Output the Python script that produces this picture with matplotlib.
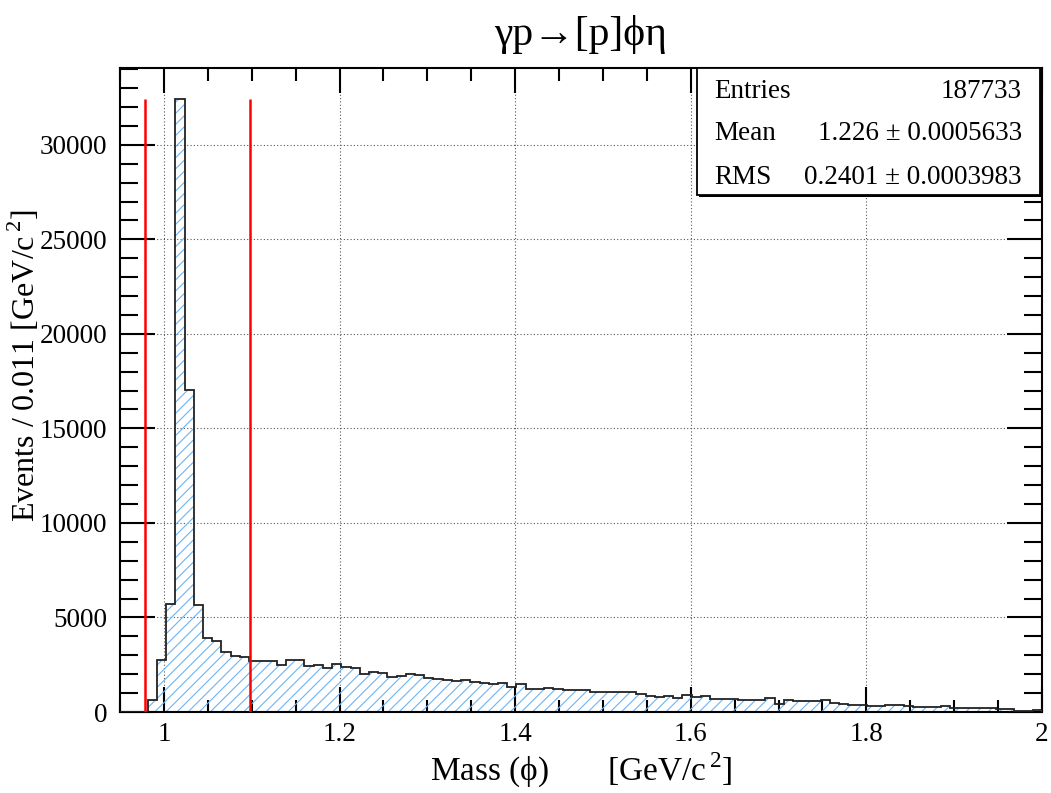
import numpy as np
import matplotlib
matplotlib.use("Agg")
import matplotlib.pyplot as plt
from matplotlib.patches import Rectangle
from matplotlib.ticker import MultipleLocator

# ---- data ----
x_min, x_max, n_bins = 0.95, 2.0, 100
counts = [
    0, 0, 0, 650, 2765, 5700, 32440, 17020, 5640, 3910,
    3780, 3150, 2940, 2930, 2720, 2720, 2720, 2470, 2740, 2770,
    2430, 2505, 2350, 2520, 2360, 2310, 1990, 2130, 2065, 1870,
    1920, 1990, 1940, 1815, 1730, 1675, 1640, 1690, 1570, 1535,
    1480, 1515, 1320, 1465, 1200, 1200, 1270, 1200, 1150, 1150,
    1150, 1060, 1060, 1060, 1060, 1050, 970, 845, 795, 830,
    725, 880, 795, 830, 705, 705, 670, 655, 655, 615,
    760, 440, 655, 580, 565, 565, 655, 495, 405, 370,
    370, 315, 315, 355, 355, 300, 245, 265, 280, 335,
    230, 210, 195, 230, 230, 160, 175, 55, 55, 105,
]
cut_lines = [0.978, 1.098]
x_ticks = [1.0, 1.2, 1.4, 1.6, 1.8, 2.0]
x_tick_labels = ["1", "1.2", "1.4", "1.6", "1.8", "2"]
y_ticks = [0, 5000, 10000, 15000, 20000, 25000, 30000]
stats_names = ["Entries", "Mean", "RMS"]
stats_values = ["187733", "1.226 \u00b1 0.0005633", "0.2401 \u00b1 0.0003983"]
title = "\u03b3p\u2192[p]\u03d5\u03b7"

# ---- style ----
serif = ["Liberation Serif", "DejaVu Serif"]
plt.rcParams["font.family"] = serif
plt.rcParams["mathtext.fontset"] = "custom"
plt.rcParams["mathtext.rm"] = "Liberation Serif"
plt.rcParams["hatch.linewidth"] = 0.8

W, H = 1051, 793
fig = plt.figure(figsize=(W / 100, H / 100), dpi=100)
L, R, T, B = 120, 1042, 68, 712
ax = fig.add_axes([L / W, 1 - B / H, (R - L) / W, (B - T) / H])

edges = np.linspace(x_min, x_max, n_bins + 1)
counts = np.array(counts, dtype=float)
hatch_col = "#6db4f5"
ax.stairs(counts, edges, fill=True, facecolor="none", edgecolor=hatch_col,
          hatch="///", linewidth=0, zorder=2)
ax.stairs(counts, edges, fill=False, color="#222222", linewidth=1.3, zorder=3)

ymax = counts.max() * 1.05
for xc in cut_lines:
    ax.vlines(xc, 0, counts.max(), color="#ff0000", linewidth=1.8, zorder=4)

ax.set_xlim(x_min, x_max)
ax.set_ylim(0, ymax)
ax.set_xticks(x_ticks)
ax.set_xticklabels(x_tick_labels)
ax.set_yticks(y_ticks)
ax.set_yticklabels([str(v) for v in y_ticks])
ax.xaxis.set_minor_locator(MultipleLocator(0.05))
ax.yaxis.set_minor_locator(MultipleLocator(1000))
ax.tick_params(which="both", direction="in", top=True, right=True,
               width=1.5, colors="black", labelsize=19.5)
ax.tick_params(axis="x", which="major", length=18, pad=7)
ax.tick_params(axis="x", which="minor", length=9)
ax.tick_params(axis="y", which="major", length=25, pad=9)
ax.tick_params(axis="y", which="minor", length=13)
ax.grid(True, which="major", linestyle=(0, (1, 2)), color="#555555", linewidth=0.8)
ax.set_axisbelow(True)
for s in ax.spines.values():
    s.set_linewidth(1.5)

fig.text((L + R) / 2 / W, 1 - 35 / H, title, ha="center", va="center", fontsize=30, family=serif)
fig.text((L + R) / 2 / W, 1 - 770 / H, "Mass (\u03d5)       [GeV/c$^{\\,2}$]",
         ha="center", va="center", fontsize=24, family=serif)
fig.text(24 / W, 1 - 366 / H, "Events / 0.011 [GeV/c$^{\\,2}$]",
         ha="center", va="center", rotation=90, fontsize=23, family=serif)

# stats box
bx0, bx1, by0, by1 = 697, 1040, 68, 195
fig.patches.append(Rectangle((bx0 / W + 2 / W, 1 - by1 / H - 2 / H), (bx1 - bx0) / W, (by1 - by0) / H,
                             transform=fig.transFigure, facecolor="black", edgecolor="black",
                             linewidth=0, zorder=9))
fig.patches.append(Rectangle((bx0 / W, 1 - by1 / H), (bx1 - bx0) / W, (by1 - by0) / H,
                             transform=fig.transFigure, facecolor="white", edgecolor="black",
                             linewidth=1.3, zorder=10))
rows_y = [91, 133, 177]
for name, val, ry in zip(stats_names, stats_values, rows_y):
    fig.text(714 / W, 1 - ry / H, name, ha="left", va="center", fontsize=19.5, zorder=11)
    fig.text(1022 / W, 1 - ry / H, val, ha="right", va="center", fontsize=19.5, zorder=11)

fig.savefig("out.png", dpi=100, facecolor="white")
